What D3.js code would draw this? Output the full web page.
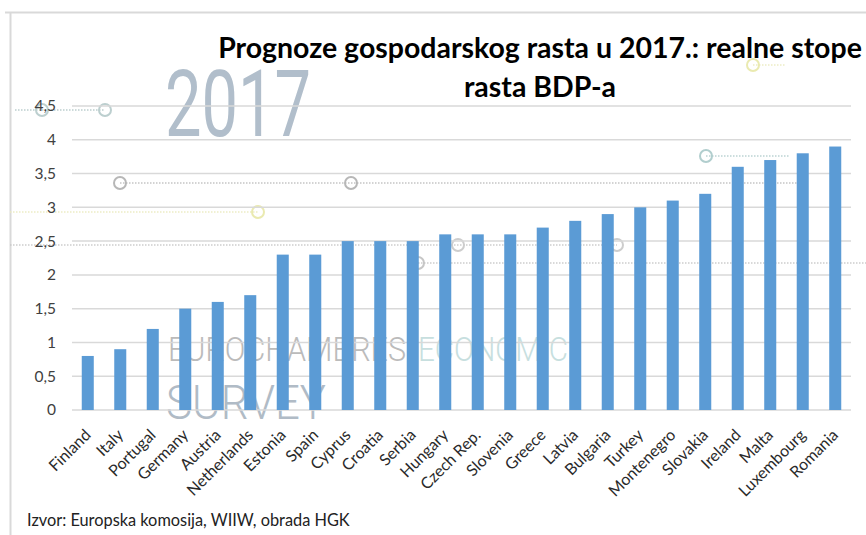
<!DOCTYPE html>
<html><head><meta charset="utf-8">
<script src="https://cdn.jsdelivr.net/npm/d3@7"></script>
<style>
html,body{margin:0;padding:0;background:#fff;}
svg{display:block;}
</style></head>
<body>
<svg id="c" width="866" height="535"></svg>
<script>
const countries = ["Finland","Italy","Portugal","Germany","Austria","Netherlands","Estonia","Spain","Cyprus","Croatia","Serbia","Hungary","Czech Rep.","Slovenia","Greece","Latvia","Bulgaria","Turkey","Montenegro","Slovakia","Ireland","Malta","Luxembourg","Romania"];
const growth = [0.8,0.9,1.2,1.5,1.6,1.7,2.3,2.3,2.5,2.5,2.5,2.6,2.6,2.6,2.7,2.8,2.9,3.0,3.1,3.2,3.6,3.7,3.8,3.9];
const yTicks = [0,0.5,1,1.5,2,2.5,3,3.5,4,4.5];
const titleLines = ["Prognoze gospodarskog rasta u 2017.: realne stope","rasta BDP-a"];
const sourceText = "Izvor: Europska komosija, WIIW, obrada HGK";

const svg = d3.select("#c");
const font = "Lato, 'Open Sans', sans-serif";

// frame
svg.append("line").attr("x1",5).attr("x2",866).attr("y1",12.5).attr("y2",12.5).attr("stroke","#d9d9d9").attr("stroke-width",2);
svg.append("line").attr("x1",10.5).attr("x2",10.5).attr("y1",12).attr("y2",535).attr("stroke","#d9d9d9").attr("stroke-width",2);

const x = d3.scaleBand().domain(countries).range([72,851]).paddingInner(0.63).paddingOuter(0.3);
const y = d3.scaleLinear().domain([0,4.5]).range([410,106]);

// background watermark
const wm = svg.append("g").attr("opacity",0.9);
wm.append("text").attr("x",165).attr("y",136).attr("font-family","Roboto, sans-serif").attr("font-weight",400)
  .attr("font-size",92).attr("fill","#a9b8c6").attr("textLength",146).attr("lengthAdjust","spacingAndGlyphs").text("2017");
wm.append("text").attr("x",168).attr("y",361).attr("font-family","Roboto, sans-serif").attr("font-weight",300)
  .attr("font-size",34).attr("fill","#b4b4b4").attr("textLength",238).attr("lengthAdjust","spacingAndGlyphs").text("EUROCHAMBRES");
wm.append("text").attr("x",418).attr("y",361).attr("font-family","Roboto, sans-serif").attr("font-weight",300)
  .attr("font-size",34).attr("fill","#c2dcdc").attr("textLength",150).attr("lengthAdjust","spacingAndGlyphs").text("ECONOMIC");
wm.append("text").attr("x",166).attr("y",419).attr("font-family","Roboto, sans-serif").attr("font-weight",300)
  .attr("font-size",48).attr("fill","#a8b4c0").attr("textLength",160).attr("lengthAdjust","spacingAndGlyphs").text("SURVEY");

const dots = [
  {x1:15,x2:105,y:110,c:"#b5c9c9"},
  {x1:120,x2:800,y:183,c:"#c0c0c0"},
  {x1:10,x2:258,y:212,c:"#ebebc0"},
  {x1:10,x2:617,y:245,c:"#c8c8c8"},
  {x1:418,x2:866,y:263,c:"#c8c8c8"},
  {x1:706,x2:790,y:156,c:"#b5d0d0"},
  {x1:753,x2:785,y:65,c:"#ebebc0"}
];
dots.forEach(d=>{
  wm.append("line").attr("x1",d.x1).attr("x2",d.x2).attr("y1",d.y).attr("y2",d.y)
    .attr("stroke",d.c).attr("stroke-width",1.5).attr("stroke-dasharray","1.5,1.5");
});
const circles = [
  {x:42,y:110,c:"#b5caca"},{x:105,y:110,c:"#b5caca"},
  {x:120,y:183,c:"#b0b0b0"},{x:351,y:183,c:"#b0b0b0"},
  {x:258,y:212,c:"#e8e8a8"},
  {x:458,y:245,c:"#c8c8c8"},{x:617,y:245,c:"#c8c8c8"},
  {x:418,y:263,c:"#c0c0c0"},
  {x:706,y:156,c:"#a9c9c9"},
  {x:753,y:65,c:"#e8e8a8"}
];
circles.forEach(d=>{
  wm.append("circle").attr("cx",d.x).attr("cy",d.y).attr("r",6).attr("fill","none").attr("stroke",d.c).attr("stroke-width",2);
});

// gridlines
svg.append("g").selectAll("line").data(yTicks).join("line")
  .attr("x1",72).attr("x2",851).attr("y1",d=>y(d)).attr("y2",d=>y(d))
  .attr("stroke","#d9d9d9").attr("stroke-width",1.5);

// y axis labels
const yAxis = svg.append("g").attr("transform","translate(56,0)")
  .call(d3.axisLeft(y).tickValues(yTicks).tickSize(0).tickPadding(0).tickFormat(d=>String(d).replace(".",",")));
yAxis.select(".domain").remove();
yAxis.selectAll("text").attr("font-family",font).attr("font-size",15.5).attr("fill","#404040");

// bars
svg.append("g").selectAll("rect").data(countries).join("rect")
  .attr("x",d=>x(d)).attr("width",x.bandwidth())
  .attr("y",(d,i)=>y(growth[i])).attr("height",(d,i)=>y(0)-y(growth[i]))
  .attr("fill","#5b9bd5");

// x axis labels
const xAxis = svg.append("g").attr("transform","translate(0,410)")
  .call(d3.axisBottom(x).tickSize(0).tickPadding(0));
xAxis.select(".domain").remove();
xAxis.selectAll("text")
  .attr("font-family",font).attr("font-size",16).attr("fill","#2a2a2a")
  .attr("text-anchor","end").attr("dy",0)
  .attr("transform","translate(4,26) rotate(-45)");

// title
const t1 = svg.append("text").attr("x",540).attr("y",58).attr("text-anchor","middle")
  .attr("font-family",font).attr("font-weight",700).attr("font-size",23).attr("fill","#000").text(titleLines[0]);
const w = t1.node().getComputedTextLength();
const fs = 23*644/w;
t1.attr("font-size",fs);
svg.append("text").attr("x",540).attr("y",97).attr("text-anchor","middle")
  .attr("font-family",font).attr("font-weight",700).attr("font-size",fs).attr("fill","#000").text(titleLines[1]);

// source
const src = svg.append("text").attr("x",27).attr("y",526).attr("font-family",font).attr("font-size",15).attr("fill","#222").text(sourceText);
const sw = src.node().getComputedTextLength();
src.attr("font-size",15*323/sw);
</script>
</body></html>
